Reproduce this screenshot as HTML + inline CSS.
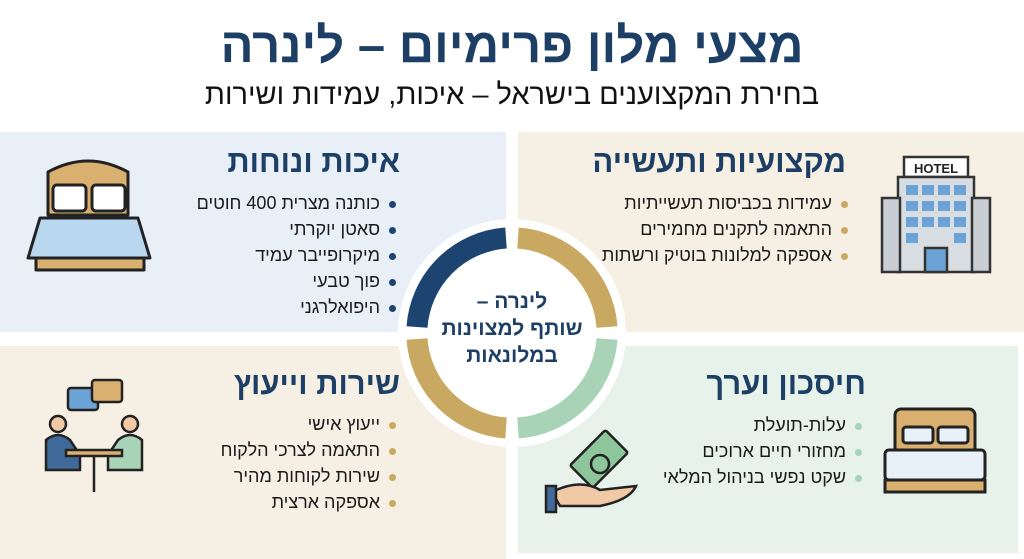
<!DOCTYPE html>
<html><head><meta charset="utf-8"><style>
body{margin:0;width:1024px;height:559px;background:#fff;position:relative;overflow:hidden;font-family:"Liberation Sans","Noto Sans CJK SC",sans-serif;}
.p{position:absolute}
.t{position:absolute;direction:rtl;text-align:right;white-space:nowrap}
.h{font-weight:bold;color:#1d3f66;font-size:31px}
.b{font-size:18px;color:#1a1a1a;line-height:26px}
.b span{display:inline-block;width:7px;height:7px;border-radius:50%;margin-left:9px;vertical-align:middle}
</style></head><body>
<div class="t" style="left:0;width:1024px;text-align:center;top:18px;font-size:49px;font-weight:bold;color:#1d3f66">מצעי מלון פרימיום – לינרה</div>
<div class="t" style="left:0;width:1024px;text-align:center;top:79px;font-size:29px;color:#111">בחירת המקצוענים בישראל – איכות, עמידות ושירות</div>
<div class="p" style="left:0;top:132px;width:506px;height:200px;background:#e8eff7"></div>
<div class="p" style="left:518px;top:132px;width:506px;height:200px;background:#f5efe4"></div>
<div class="p" style="left:0;top:346px;width:506px;height:213px;background:#f5efe4"></div>
<div class="p" style="left:518px;top:346px;width:500px;height:207px;background:#e6f2ea"></div>
<svg class="p" style="left:0;top:0" width="1024" height="559">
<circle cx="512" cy="333" r="114" fill="#fff"/>
<g fill="none" stroke-width="21">
<path d="M417 327 A96 96 0 0 1 506 238" stroke="#1d4370"/>
<path d="M518 238 A96 96 0 0 1 607 327" stroke="#c9a861"/>
<path d="M607 339 A96 96 0 0 1 518 428" stroke="#a8d3b7"/>
<path d="M506 428 A96 96 0 0 1 417 339" stroke="#c9a861"/>
</g>
<g stroke="#222" stroke-width="3" stroke-linejoin="round">
<path d="M48 215 V172 Q88 150 128 172 V215Z" fill="#d9b070"/>
<rect x="53" y="185" width="33" height="26" rx="4" fill="#fff"/>
<rect x="92" y="185" width="33" height="26" rx="4" fill="#fff"/>
<path d="M40 218 H138 L150 258 H28Z" fill="#b9d8f0"/>
<rect x="36" y="258" width="108" height="12" fill="#d9b070"/>
</g>
<g stroke="#333" stroke-width="2.5">
<rect x="904" y="157" width="64" height="20" fill="#fff"/>
<text x="936" y="173" font-size="13" font-weight="bold" text-anchor="middle" stroke="none" fill="#222" font-family="Liberation Sans">HOTEL</text>
<rect x="898" y="177" width="76" height="95" fill="#d8dde2"/>
<rect x="882" y="198" width="18" height="74" fill="#c8ced4"/>
<rect x="972" y="198" width="18" height="74" fill="#c8ced4"/>
<rect x="925" y="248" width="22" height="24" fill="#6ba3d6"/>
</g>
<g fill="#6ba3d6">
<rect x="906" y="185" width="12" height="10"/><rect x="922" y="185" width="12" height="10"/><rect x="938" y="185" width="12" height="10"/><rect x="954" y="185" width="12" height="10"/>
<rect x="906" y="201" width="12" height="10"/><rect x="922" y="201" width="12" height="10"/><rect x="938" y="201" width="12" height="10"/><rect x="954" y="201" width="12" height="10"/>
<rect x="906" y="217" width="12" height="10"/><rect x="922" y="217" width="12" height="10"/><rect x="938" y="217" width="12" height="10"/><rect x="954" y="217" width="12" height="10"/>
<rect x="906" y="233" width="12" height="10"/><rect x="954" y="233" width="12" height="10"/>
</g>
<g stroke="#222" stroke-width="2.5">
<rect x="68" y="388" width="30" height="22" rx="3" fill="#6ba3d6"/>
<rect x="92" y="380" width="30" height="22" rx="3" fill="#d9b070"/>
<circle cx="58" cy="424" r="8" fill="#f2c9a5"/><path d="M46 470 V440 Q58 430 70 440 L80 455 V470Z" fill="#3f6a9a"/>
<circle cx="130" cy="424" r="8" fill="#f2c9a5"/><path d="M142 470 V440 Q130 430 118 440 L108 455 V470Z" fill="#a8d3b7"/>
<rect x="66" y="450" width="56" height="6" fill="#d9b070"/>
<path d="M94 456 V492" fill="none"/>
</g>
<g stroke="#222" stroke-width="3">
<rect x="895" y="409" width="80" height="52" rx="6" fill="#d9b070"/>
<rect x="903" y="427" width="30" height="16" rx="3" fill="#e8f0f8"/>
<rect x="938" y="427" width="30" height="16" rx="3" fill="#e8f0f8"/>
<rect x="885" y="450" width="100" height="30" rx="4" fill="#e8f0f8"/>
<rect x="885" y="480" width="100" height="12" fill="#d9b070"/>
</g>
<g stroke="#222" stroke-width="2.5">
<rect x="574" y="443" width="50" height="32" rx="2" transform="rotate(-45 599 459)" fill="#8cc69a"/>
<circle cx="600" cy="464" r="9" fill="#8cc69a"/>
<path d="M552 492 Q580 478 600 490 L636 486 Q630 500 600 506 L560 506Z" fill="#f2c9a5"/>
<rect x="546" y="486" width="10" height="26" fill="#3f6a9a"/>
</g>
</svg>
<div class="t" style="left:402px;top:288px;width:220px;text-align:center;font-size:21px;font-weight:bold;color:#1d3f66;line-height:27px">לינרה –<br>שותף למצוינות<br>במלונאות</div>

<div class="t h" style="right:624px;top:144px">איכות ונוחות</div>
<div class="t b" style="right:628px;top:190px"><span style="background:#1d4370"></span>כותנה מצרית 400 חוטים<br><span style="background:#1d4370"></span>סאטן יוקרתי<br><span style="background:#1d4370"></span>מיקרופייבר עמיד<br><span style="background:#1d4370"></span>פוך טבעי<br><span style="background:#1d4370"></span>היפואלרגני</div>

<div class="t h" style="right:178px;top:144px">מקצועיות ותעשייה</div>
<div class="t b" style="right:176px;top:190px"><span style="background:#c9a861"></span>עמידות בכביסות תעשייתיות<br><span style="background:#c9a861"></span>התאמה לתקנים מחמירים<br><span style="background:#c9a861"></span>אספקה למלונות בוטיק ורשתות</div>

<div class="t h" style="right:624px;top:366px">שירות וייעוץ</div>
<div class="t b" style="right:628px;top:411px"><span style="background:#c9a861"></span>ייעוץ אישי<br><span style="background:#c9a861"></span>התאמה לצרכי הלקוח<br><span style="background:#c9a861"></span>שירות לקוחות מהיר<br><span style="background:#c9a861"></span>אספקה ארצית</div>

<div class="t h" style="right:158px;top:366px">חיסכון וערך</div>
<div class="t b" style="right:162px;top:412px"><span style="background:#a8d3b7"></span>עלות-תועלת<br><span style="background:#a8d3b7"></span>מחזורי חיים ארוכים<br><span style="background:#a8d3b7"></span>שקט נפשי בניהול המלאי</div>
</body></html>
